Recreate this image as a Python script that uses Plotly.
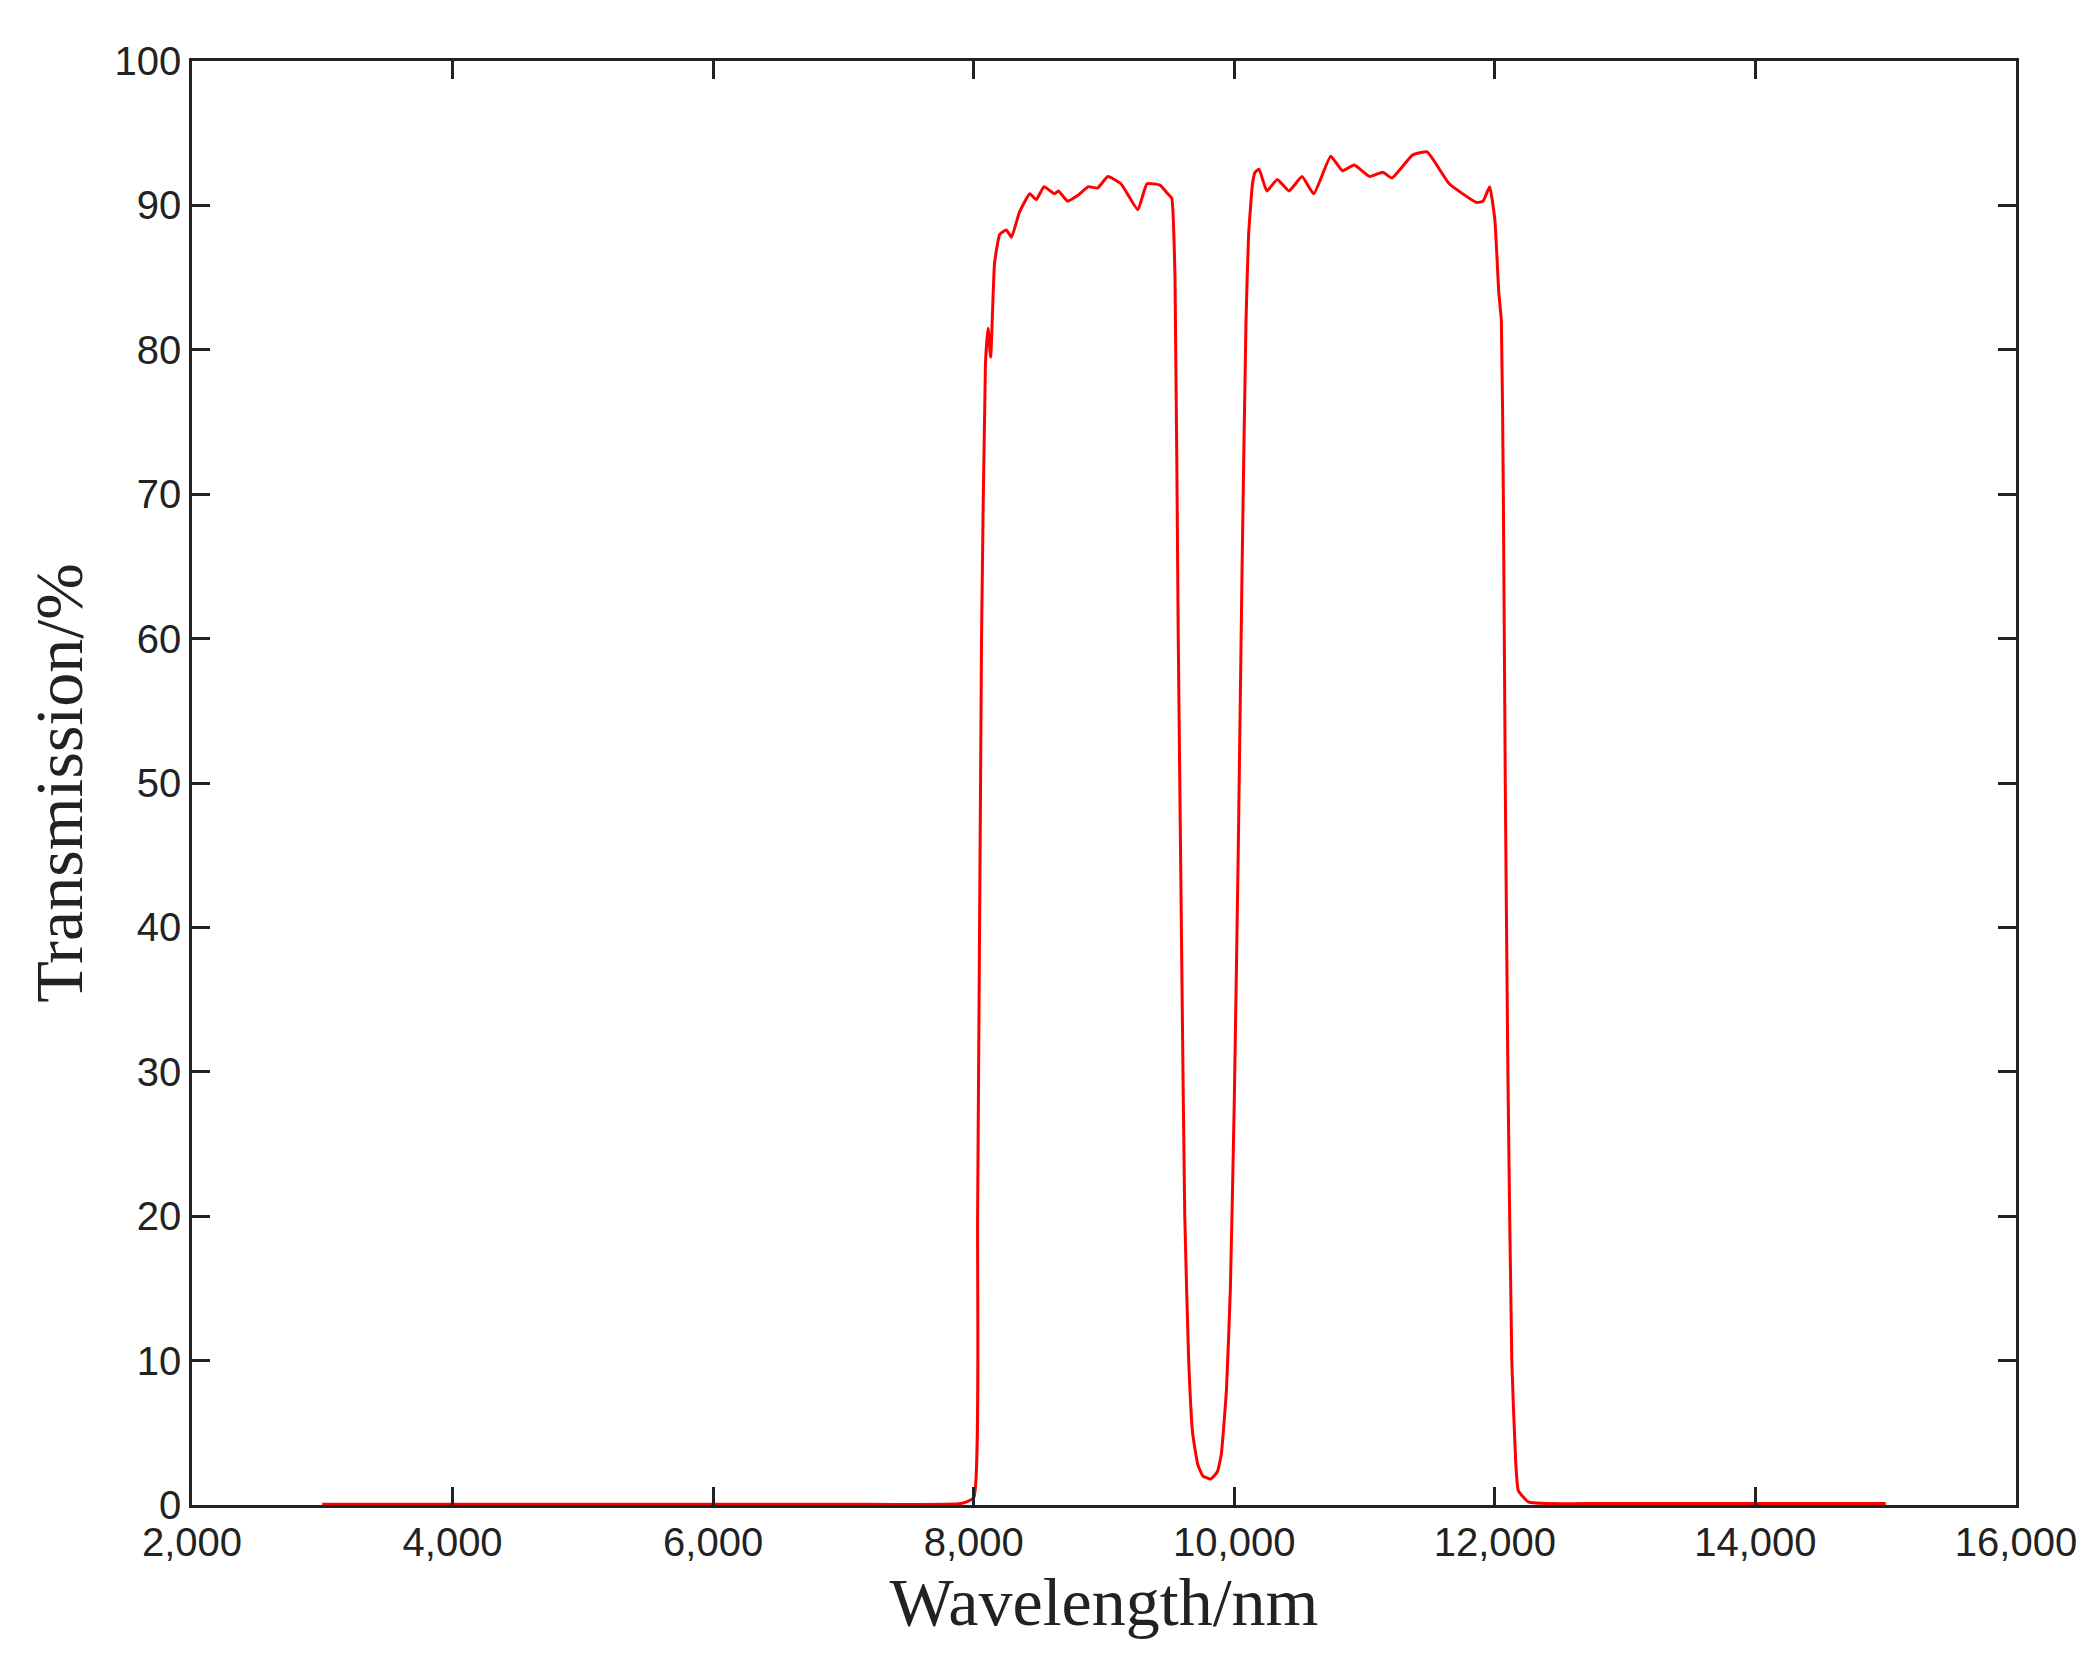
import plotly.graph_objects as go

wavelength = [3000, 4000, 5000, 6000, 7000, 7900, 8000, 8030, 8060, 8090, 8110, 8130, 8160, 8200,
              8250, 8290, 8350, 8430, 8480, 8540, 8620, 8650, 8720, 8800, 8880, 8950, 9030,
              9130, 9260, 9330, 9430, 9490, 9520, 9545, 9570, 9600, 9620, 9650, 9680, 9720,
              9760, 9820, 9870, 9900, 9940, 9970, 10000, 10030, 10060, 10090, 10110, 10140, 10160,
              10190, 10250, 10330, 10420, 10520, 10610, 10740, 10830, 10920, 11040, 11140,
              11210, 11370, 11480, 11650, 11860, 11910, 11960, 12000, 12030, 12050, 12065,
              12080, 12100, 12130, 12160, 12180, 12260, 12800, 13500, 14200, 15000]
transmission = [0.05, 0.05, 0.05, 0.05, 0.05, 0.1, 0.5, 20, 60, 79, 81.5, 79.5, 86, 88,
                88.3, 87.8, 89.5, 90.8, 90.4, 91.3, 90.8, 91, 90.3, 90.7, 91.3, 91.2, 92,
                91.5, 89.7, 91.5, 91.4, 90.8, 90.5, 85, 60, 35, 20, 10, 5, 2.8,
                2, 1.8, 2.3, 3.5, 8, 15, 28, 45, 65, 82, 88, 91.5, 92.3,
                92.5, 91, 91.8, 91, 92, 90.8, 93.4, 92.4, 92.8, 92, 92.3,
                91.9, 93.5, 93.7, 91.5, 90.2, 90.3, 91.3, 89, 84, 82, 70,
                50, 30, 10, 3, 1, 0.2, 0.1, 0.1, 0.1, 0.1]

fig = go.Figure(go.Scatter(x=wavelength, y=transmission, mode='lines',
                           line=dict(color='#ff0000', width=3, shape='spline', smoothing=0.4)))

axis_common = dict(showline=True, linecolor='#222', linewidth=2.5, mirror='ticks',
                   ticks='inside', ticklen=18, tickwidth=2.5, tickcolor='#222',
                   showgrid=False, zeroline=False,
                   tickfont=dict(family='Liberation Sans', size=40, color='#222'))

fig.update_xaxes(range=[2000, 16000], dtick=2000, tickformat=',d',
                 title=dict(text='Wavelength/nm', font=dict(family='Liberation Serif', size=68, color='#222'),
                            standoff=12),
                 **axis_common)
fig.update_yaxes(range=[0, 100], dtick=10,
                 title=dict(text='Transmission/%', font=dict(family='Liberation Serif', size=68, color='#222'),
                            standoff=10),
                 **axis_common)

fig.update_layout(width=2089, height=1679, plot_bgcolor='white', paper_bgcolor='white',
                  margin=dict(l=184, r=81, t=53, b=182), showlegend=False)

fig.write_html("out.html")
